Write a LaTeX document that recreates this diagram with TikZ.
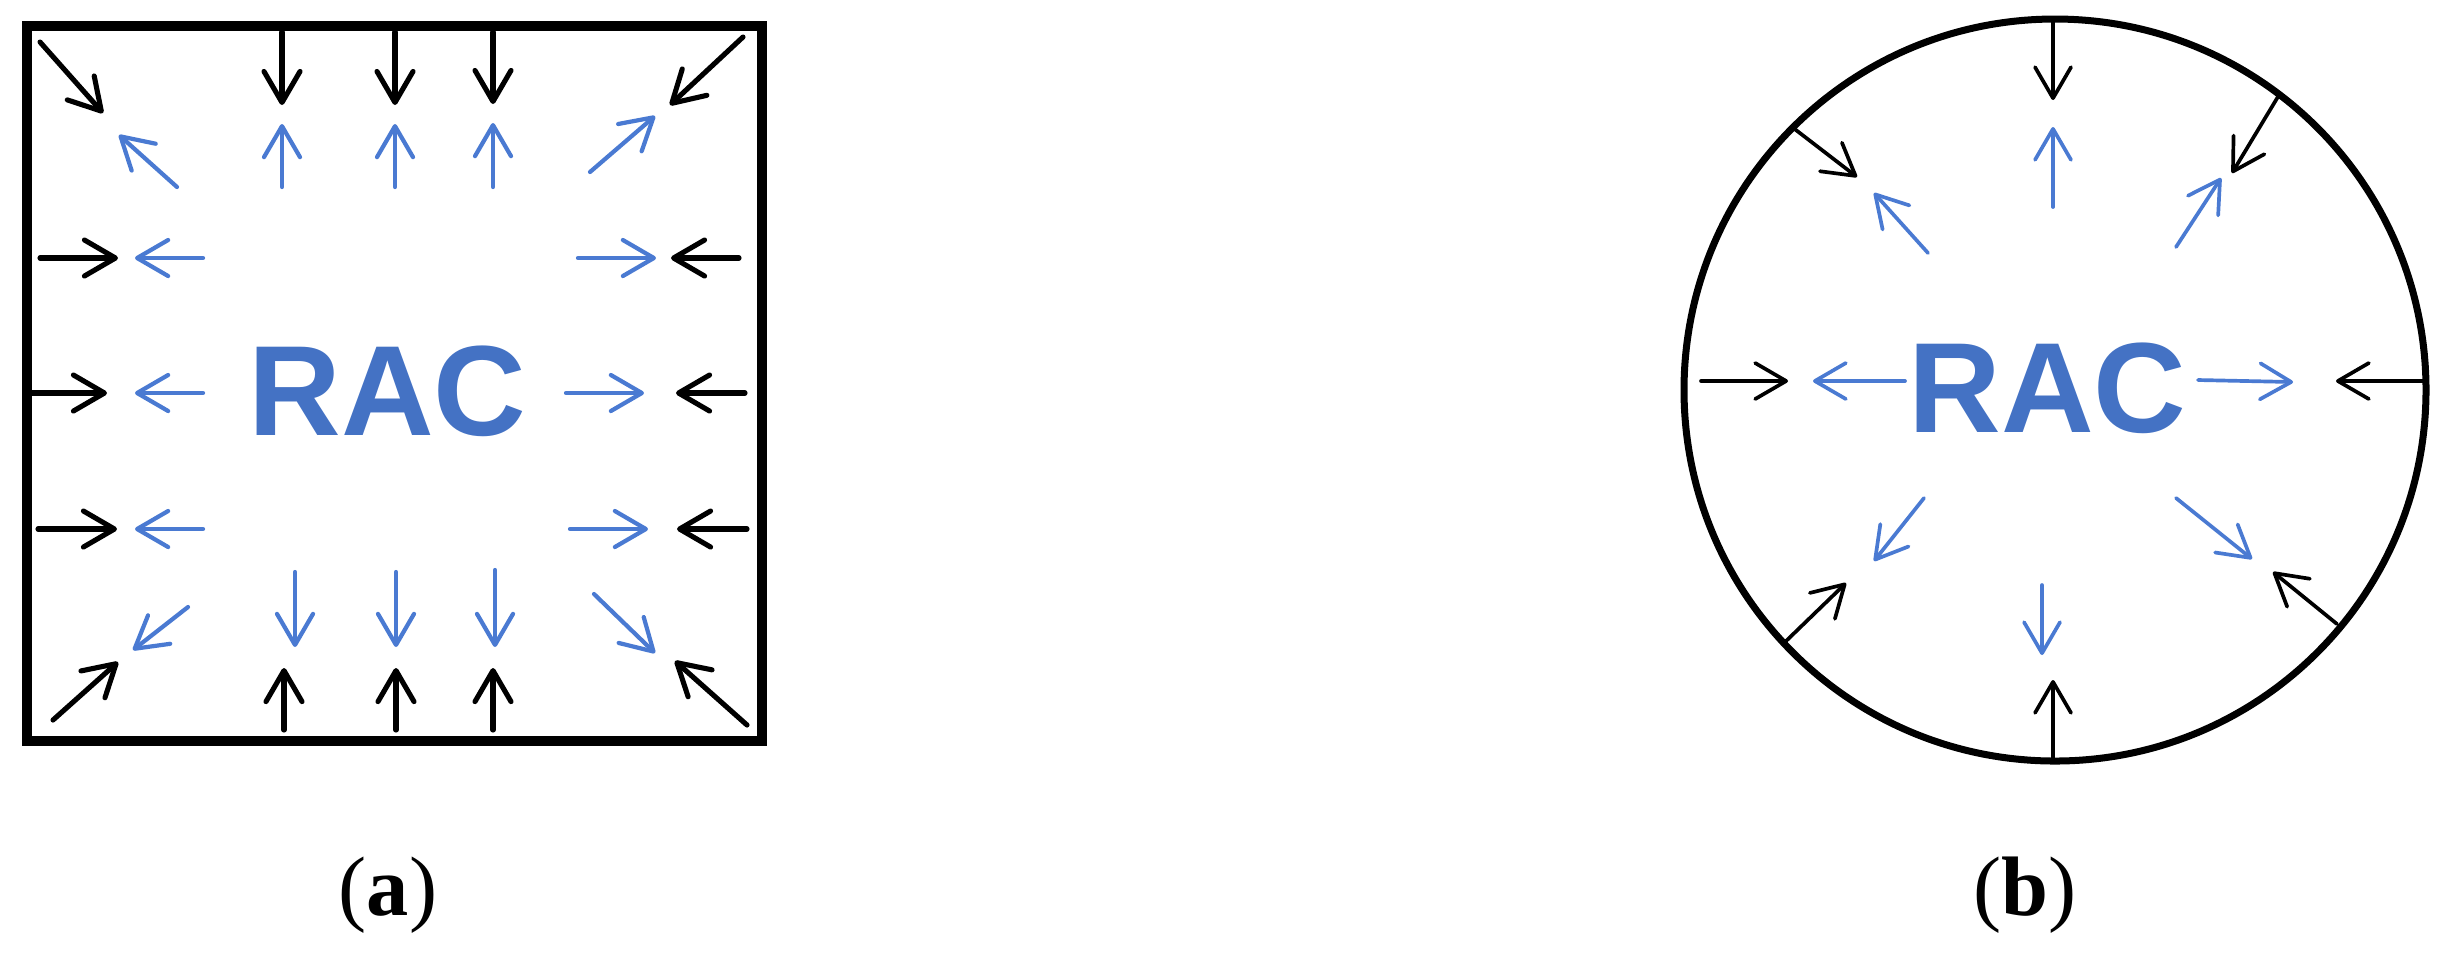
\documentclass[tikz,border=0pt]{standalone}
\usepackage{fontspec}
\setmainfont{Liberation Serif}
\newfontfamily\racfont{Liberation Sans}
\usetikzlibrary{arrows.meta}
\definecolor{racblue}{HTML}{4472C4}
\definecolor{arrblue}{HTML}{4A7AD2}
\tikzset{
  sqblack/.style={draw=black, line width=1.45pt, line cap=round,
    -{Straight Barb[length=0.31cm,width=0.36cm,round]}},
  sqblue/.style={draw=arrblue, line width=1.2pt, line cap=round,
    -{Straight Barb[length=0.31cm,width=0.36cm,round]}},
  ciblack/.style={draw=black, line width=1.05pt, line cap=round,
    -{Straight Barb[length=0.31cm,width=0.36cm,round]}},
  ciblue/.style={draw=arrblue, line width=1.05pt, line cap=round,
    -{Straight Barb[length=0.31cm,width=0.36cm,round]}},
  ractext/.style={text=racblue, font=\racfont\bfseries\fontsize{36.5}{40}\selectfont, inner sep=0pt, anchor=base},
  sublabel/.style={font=\fontsize{24}{28}\selectfont, inner sep=0pt, anchor=base}
}
\begin{document}
\begin{tikzpicture}[x=0.01cm,y=-0.01cm]
\useasboundingbox (0,0) rectangle (2449,953);
% ---------- (a) square ----------
\draw[line width=0.1cm] (27,26) rectangle (762,741);
\node[ractext] (racA) at (387.5,435) {RAC};
% black arrows
\draw[sqblack] (40,42) -- (103,113);
\draw[sqblack] (282,32) -- (282,105);
\draw[sqblack] (395,32) -- (395,105);
\draw[sqblack] (493,32) -- (493,104);
\draw[sqblack] (743,37) -- (670,105);
\draw[sqblack] (40,258) -- (118,258);
\draw[sqblack] (32,393) -- (107,393);
\draw[sqblack] (38,529) -- (117,529);
\draw[sqblack] (739,258) -- (671,258);
\draw[sqblack] (745,393) -- (676,393);
\draw[sqblack] (747,529) -- (677,529);
\draw[sqblack] (53,720) -- (118,662);
\draw[sqblack] (284,730) -- (284,668);
\draw[sqblack] (396,730) -- (396,668);
\draw[sqblack] (493,730) -- (493,668);
\draw[sqblack] (747,725) -- (675,661);
% blue arrows
\draw[sqblue] (177,187) -- (119,135);
\draw[sqblue] (282,187) -- (282,124);
\draw[sqblue] (395,187) -- (395,124);
\draw[sqblue] (493,187) -- (493,123);
\draw[sqblue] (590,172) -- (655,116);
\draw[sqblue] (203,258) -- (135,258);
\draw[sqblue] (203,393) -- (135,393);
\draw[sqblue] (203,529) -- (135,529);
\draw[sqblue] (578,258) -- (656,258);
\draw[sqblue] (566,393) -- (644,393);
\draw[sqblue] (570,529) -- (648,529);
\draw[sqblue] (188,607) -- (133,650);
\draw[sqblue] (295,572) -- (295,647);
\draw[sqblue] (396,572) -- (396,647);
\draw[sqblue] (495,570) -- (495,647);
\draw[sqblue] (594,594) -- (655,653);
% ---------- (b) circle ----------
\coordinate (C) at (2055,390);
\draw[line width=0.07cm] (C) circle [radius=371];
\node[ractext] (racB) at (2047.5,432) {RAC};
% black arrows
\draw[ciblack] (2053,19) -- (2053,100);
\draw[ciblack] (1792,127) -- (1857,177);
\draw[ciblack] (2279,95) -- (2232,173);
\draw[ciblack] (1701,381) -- (1788,381);
\draw[ciblack] (2424,381) -- (2336,381);
\draw[ciblack] (1785,642) -- (1846,583);
\draw[ciblack] (2053,761) -- (2053,680);
\draw[ciblack] (2337,624) -- (2273,572);
% blue arrows
\draw[ciblue] (2053,207) -- (2053,127);
\draw[ciblue] (1928,253) -- (1874,193);
\draw[ciblue] (2176,247) -- (2221,178);
\draw[ciblue] (1905,381) -- (1813,381);
\draw[ciblue] (2198,380) -- (2293,382);
\draw[ciblue] (1924,498) -- (1874,561);
\draw[ciblue] (2042,585) -- (2042,655);
\draw[ciblue] (2176,498) -- (2252,559);
% ---------- labels ----------
\node[sublabel] (labA) at (388,915) {(\textbf{a})};
\node[sublabel] (labB) at (2025,915) {(\textbf{b})};
\end{tikzpicture}
\end{document}
